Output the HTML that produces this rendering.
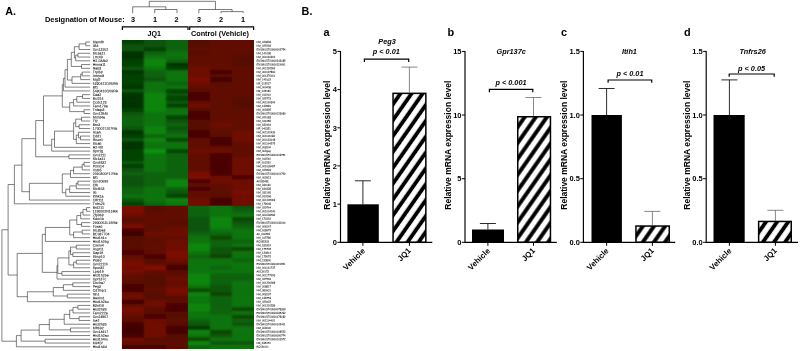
<!DOCTYPE html>
<html lang="en"><head><meta charset="utf-8"><title>Figure</title>
<style>html,body{margin:0;padding:0;background:#fff;}body{width:800px;height:351px;overflow:hidden;font-family:"Liberation Sans",Arial,sans-serif;}svg{display:block}</style>
</head><body>
<svg width="800" height="351" viewBox="0 0 800 351">
<rect width="800" height="351" fill="#fff"/>
<g shape-rendering="crispEdges">
<rect x="121.90" y="40.10" width="66.05" height="165.59" fill="#0b640a"/>
<rect x="187.95" y="40.10" width="66.05" height="165.59" fill="#610904"/>
<rect x="121.90" y="205.69" width="66.05" height="143.01" fill="#610904"/>
<rect x="187.95" y="205.69" width="66.05" height="143.01" fill="#0b640a"/>
</g>
<defs><filter id="hmblur" x="-5%" y="-5%" width="110%" height="110%"><feGaussianBlur stdDeviation="0.8 0.85"/></filter></defs>
<clipPath id="hq0"><rect x="121.90" y="40.10" width="66.05" height="165.59"/></clipPath>
<g clip-path="url(#hq0)"><g filter="url(#hmblur)">
<rect x="117.90" y="36.10" width="26.32" height="8.06" fill="#064206"/>
<rect x="143.92" y="36.10" width="22.32" height="8.06" fill="#085308"/>
<rect x="165.93" y="36.10" width="26.32" height="8.06" fill="#0b640a"/>
<rect x="117.90" y="43.86" width="26.32" height="4.06" fill="#085308"/>
<rect x="143.92" y="43.86" width="22.32" height="4.06" fill="#085308"/>
<rect x="165.93" y="43.86" width="26.32" height="4.06" fill="#0b640a"/>
<rect x="117.90" y="47.63" width="26.32" height="4.06" fill="#085308"/>
<rect x="143.92" y="47.63" width="22.32" height="4.06" fill="#064206"/>
<rect x="165.93" y="47.63" width="26.32" height="4.06" fill="#0b640a"/>
<rect x="117.90" y="51.39" width="26.32" height="4.06" fill="#043204"/>
<rect x="143.92" y="51.39" width="22.32" height="4.06" fill="#0b640a"/>
<rect x="165.93" y="51.39" width="26.32" height="4.06" fill="#0d740b"/>
<rect x="117.90" y="55.15" width="26.32" height="4.06" fill="#043204"/>
<rect x="143.92" y="55.15" width="22.32" height="4.06" fill="#0d740b"/>
<rect x="165.93" y="55.15" width="26.32" height="4.06" fill="#0d740b"/>
<rect x="117.90" y="58.92" width="26.32" height="4.06" fill="#064206"/>
<rect x="143.92" y="58.92" width="22.32" height="4.06" fill="#0f850d"/>
<rect x="165.93" y="58.92" width="26.32" height="4.06" fill="#0b640a"/>
<rect x="117.90" y="62.68" width="26.32" height="4.06" fill="#064206"/>
<rect x="143.92" y="62.68" width="22.32" height="4.06" fill="#0f850d"/>
<rect x="165.93" y="62.68" width="26.32" height="4.06" fill="#043204"/>
<rect x="117.90" y="66.44" width="26.32" height="4.06" fill="#085308"/>
<rect x="143.92" y="66.44" width="22.32" height="4.06" fill="#0d740b"/>
<rect x="165.93" y="66.44" width="26.32" height="4.06" fill="#064206"/>
<rect x="117.90" y="70.21" width="26.32" height="4.06" fill="#043204"/>
<rect x="143.92" y="70.21" width="22.32" height="4.06" fill="#0b640a"/>
<rect x="165.93" y="70.21" width="26.32" height="4.06" fill="#0d740b"/>
<rect x="117.90" y="73.97" width="26.32" height="4.06" fill="#064206"/>
<rect x="143.92" y="73.97" width="22.32" height="4.06" fill="#0b640a"/>
<rect x="165.93" y="73.97" width="26.32" height="4.06" fill="#0d740b"/>
<rect x="117.90" y="77.73" width="26.32" height="4.06" fill="#064206"/>
<rect x="143.92" y="77.73" width="22.32" height="4.06" fill="#085308"/>
<rect x="165.93" y="77.73" width="26.32" height="4.06" fill="#0d740b"/>
<rect x="117.90" y="81.50" width="26.32" height="4.06" fill="#064206"/>
<rect x="143.92" y="81.50" width="22.32" height="4.06" fill="#0d740b"/>
<rect x="165.93" y="81.50" width="26.32" height="4.06" fill="#0b640a"/>
<rect x="117.90" y="85.26" width="26.32" height="4.06" fill="#043204"/>
<rect x="143.92" y="85.26" width="22.32" height="4.06" fill="#0d740b"/>
<rect x="165.93" y="85.26" width="26.32" height="4.06" fill="#0d740b"/>
<rect x="117.90" y="89.02" width="26.32" height="4.06" fill="#085308"/>
<rect x="143.92" y="89.02" width="22.32" height="4.06" fill="#0d740b"/>
<rect x="165.93" y="89.02" width="26.32" height="4.06" fill="#064206"/>
<rect x="117.90" y="92.79" width="26.32" height="4.06" fill="#043204"/>
<rect x="143.92" y="92.79" width="22.32" height="4.06" fill="#0f850d"/>
<rect x="165.93" y="92.79" width="26.32" height="4.06" fill="#085308"/>
<rect x="117.90" y="96.55" width="26.32" height="4.06" fill="#043204"/>
<rect x="143.92" y="96.55" width="22.32" height="4.06" fill="#0f850d"/>
<rect x="165.93" y="96.55" width="26.32" height="4.06" fill="#064206"/>
<rect x="117.90" y="100.31" width="26.32" height="4.06" fill="#043204"/>
<rect x="143.92" y="100.31" width="22.32" height="4.06" fill="#0f850d"/>
<rect x="165.93" y="100.31" width="26.32" height="4.06" fill="#085308"/>
<rect x="117.90" y="104.08" width="26.32" height="4.06" fill="#043204"/>
<rect x="143.92" y="104.08" width="22.32" height="4.06" fill="#0f850d"/>
<rect x="165.93" y="104.08" width="26.32" height="4.06" fill="#064206"/>
<rect x="117.90" y="107.84" width="26.32" height="4.06" fill="#064206"/>
<rect x="143.92" y="107.84" width="22.32" height="4.06" fill="#0f850d"/>
<rect x="165.93" y="107.84" width="26.32" height="4.06" fill="#0d740b"/>
<rect x="117.90" y="111.60" width="26.32" height="4.06" fill="#085308"/>
<rect x="143.92" y="111.60" width="22.32" height="4.06" fill="#0d740b"/>
<rect x="165.93" y="111.60" width="26.32" height="4.06" fill="#0d740b"/>
<rect x="117.90" y="115.37" width="26.32" height="4.06" fill="#0b640a"/>
<rect x="143.92" y="115.37" width="22.32" height="4.06" fill="#0d740b"/>
<rect x="165.93" y="115.37" width="26.32" height="4.06" fill="#064206"/>
<rect x="117.90" y="119.13" width="26.32" height="4.06" fill="#0b640a"/>
<rect x="143.92" y="119.13" width="22.32" height="4.06" fill="#0d740b"/>
<rect x="165.93" y="119.13" width="26.32" height="4.06" fill="#085308"/>
<rect x="117.90" y="122.90" width="26.32" height="4.06" fill="#0b640a"/>
<rect x="143.92" y="122.90" width="22.32" height="4.06" fill="#0d740b"/>
<rect x="165.93" y="122.90" width="26.32" height="4.06" fill="#0b640a"/>
<rect x="117.90" y="126.66" width="26.32" height="4.06" fill="#085308"/>
<rect x="143.92" y="126.66" width="22.32" height="4.06" fill="#0f850d"/>
<rect x="165.93" y="126.66" width="26.32" height="4.06" fill="#085308"/>
<rect x="117.90" y="130.42" width="26.32" height="4.06" fill="#043204"/>
<rect x="143.92" y="130.42" width="22.32" height="4.06" fill="#0f850d"/>
<rect x="165.93" y="130.42" width="26.32" height="4.06" fill="#0b640a"/>
<rect x="117.90" y="134.19" width="26.32" height="4.06" fill="#064206"/>
<rect x="143.92" y="134.19" width="22.32" height="4.06" fill="#0b640a"/>
<rect x="165.93" y="134.19" width="26.32" height="4.06" fill="#0d740b"/>
<rect x="117.90" y="137.95" width="26.32" height="4.06" fill="#085308"/>
<rect x="143.92" y="137.95" width="22.32" height="4.06" fill="#0f850d"/>
<rect x="165.93" y="137.95" width="26.32" height="4.06" fill="#064206"/>
<rect x="117.90" y="141.71" width="26.32" height="4.06" fill="#043204"/>
<rect x="143.92" y="141.71" width="22.32" height="4.06" fill="#0d740b"/>
<rect x="165.93" y="141.71" width="26.32" height="4.06" fill="#0d740b"/>
<rect x="117.90" y="145.48" width="26.32" height="4.06" fill="#043204"/>
<rect x="143.92" y="145.48" width="22.32" height="4.06" fill="#0d740b"/>
<rect x="165.93" y="145.48" width="26.32" height="4.06" fill="#0d740b"/>
<rect x="117.90" y="149.24" width="26.32" height="4.06" fill="#064206"/>
<rect x="143.92" y="149.24" width="22.32" height="4.06" fill="#11950f"/>
<rect x="165.93" y="149.24" width="26.32" height="4.06" fill="#064206"/>
<rect x="117.90" y="153.00" width="26.32" height="4.06" fill="#064206"/>
<rect x="143.92" y="153.00" width="22.32" height="4.06" fill="#0d740b"/>
<rect x="165.93" y="153.00" width="26.32" height="4.06" fill="#0b640a"/>
<rect x="117.90" y="156.77" width="26.32" height="4.06" fill="#064206"/>
<rect x="143.92" y="156.77" width="22.32" height="4.06" fill="#0d740b"/>
<rect x="165.93" y="156.77" width="26.32" height="4.06" fill="#0b640a"/>
<rect x="117.90" y="160.53" width="26.32" height="4.06" fill="#085308"/>
<rect x="143.92" y="160.53" width="22.32" height="4.06" fill="#0d740b"/>
<rect x="165.93" y="160.53" width="26.32" height="4.06" fill="#0b640a"/>
<rect x="117.90" y="164.29" width="26.32" height="4.06" fill="#064206"/>
<rect x="143.92" y="164.29" width="22.32" height="4.06" fill="#0d740b"/>
<rect x="165.93" y="164.29" width="26.32" height="4.06" fill="#0b640a"/>
<rect x="117.90" y="168.06" width="26.32" height="4.06" fill="#085308"/>
<rect x="143.92" y="168.06" width="22.32" height="4.06" fill="#0d740b"/>
<rect x="165.93" y="168.06" width="26.32" height="4.06" fill="#0b640a"/>
<rect x="117.90" y="171.82" width="26.32" height="4.06" fill="#0b640a"/>
<rect x="143.92" y="171.82" width="22.32" height="4.06" fill="#0b640a"/>
<rect x="165.93" y="171.82" width="26.32" height="4.06" fill="#0b640a"/>
<rect x="117.90" y="175.58" width="26.32" height="4.06" fill="#085308"/>
<rect x="143.92" y="175.58" width="22.32" height="4.06" fill="#0b640a"/>
<rect x="165.93" y="175.58" width="26.32" height="4.06" fill="#0b640a"/>
<rect x="117.90" y="179.35" width="26.32" height="4.06" fill="#085308"/>
<rect x="143.92" y="179.35" width="22.32" height="4.06" fill="#0b640a"/>
<rect x="165.93" y="179.35" width="26.32" height="4.06" fill="#0f850d"/>
<rect x="117.90" y="183.11" width="26.32" height="4.06" fill="#085308"/>
<rect x="143.92" y="183.11" width="22.32" height="4.06" fill="#0b640a"/>
<rect x="165.93" y="183.11" width="26.32" height="4.06" fill="#0f850d"/>
<rect x="117.90" y="186.87" width="26.32" height="4.06" fill="#0b640a"/>
<rect x="143.92" y="186.87" width="22.32" height="4.06" fill="#0d740b"/>
<rect x="165.93" y="186.87" width="26.32" height="4.06" fill="#0b640a"/>
<rect x="117.90" y="190.64" width="26.32" height="4.06" fill="#0b640a"/>
<rect x="143.92" y="190.64" width="22.32" height="4.06" fill="#0d740b"/>
<rect x="165.93" y="190.64" width="26.32" height="4.06" fill="#085308"/>
<rect x="117.90" y="194.40" width="26.32" height="4.06" fill="#0d740b"/>
<rect x="143.92" y="194.40" width="22.32" height="4.06" fill="#0d740b"/>
<rect x="165.93" y="194.40" width="26.32" height="4.06" fill="#064206"/>
<rect x="117.90" y="198.16" width="26.32" height="4.06" fill="#085308"/>
<rect x="143.92" y="198.16" width="22.32" height="4.06" fill="#0d740b"/>
<rect x="165.93" y="198.16" width="26.32" height="4.06" fill="#0f850d"/>
<rect x="117.90" y="201.93" width="26.32" height="8.06" fill="#064206"/>
<rect x="143.92" y="201.93" width="22.32" height="8.06" fill="#0b640a"/>
<rect x="165.93" y="201.93" width="26.32" height="8.06" fill="#0d740b"/>
</g></g>
<clipPath id="hq1"><rect x="187.95" y="40.10" width="66.05" height="165.59"/></clipPath>
<g clip-path="url(#hq1)"><g filter="url(#hmblur)">
<rect x="183.95" y="36.10" width="26.32" height="8.06" fill="#560703"/>
<rect x="209.97" y="36.10" width="22.32" height="8.06" fill="#610904"/>
<rect x="231.98" y="36.10" width="26.32" height="8.06" fill="#610904"/>
<rect x="183.95" y="43.86" width="26.32" height="4.06" fill="#560703"/>
<rect x="209.97" y="43.86" width="22.32" height="4.06" fill="#610904"/>
<rect x="231.98" y="43.86" width="26.32" height="4.06" fill="#610904"/>
<rect x="183.95" y="47.63" width="26.32" height="4.06" fill="#610904"/>
<rect x="209.97" y="47.63" width="22.32" height="4.06" fill="#610904"/>
<rect x="231.98" y="47.63" width="26.32" height="4.06" fill="#610904"/>
<rect x="183.95" y="51.39" width="26.32" height="4.06" fill="#560703"/>
<rect x="209.97" y="51.39" width="22.32" height="4.06" fill="#610904"/>
<rect x="231.98" y="51.39" width="26.32" height="4.06" fill="#610904"/>
<rect x="183.95" y="55.15" width="26.32" height="4.06" fill="#610904"/>
<rect x="209.97" y="55.15" width="22.32" height="4.06" fill="#610904"/>
<rect x="231.98" y="55.15" width="26.32" height="4.06" fill="#560703"/>
<rect x="183.95" y="58.92" width="26.32" height="4.06" fill="#610904"/>
<rect x="209.97" y="58.92" width="22.32" height="4.06" fill="#610904"/>
<rect x="231.98" y="58.92" width="26.32" height="4.06" fill="#560703"/>
<rect x="183.95" y="62.68" width="26.32" height="4.06" fill="#610904"/>
<rect x="209.97" y="62.68" width="22.32" height="4.06" fill="#610904"/>
<rect x="231.98" y="62.68" width="26.32" height="4.06" fill="#560703"/>
<rect x="183.95" y="66.44" width="26.32" height="4.06" fill="#6e0a04"/>
<rect x="209.97" y="66.44" width="22.32" height="4.06" fill="#610904"/>
<rect x="231.98" y="66.44" width="26.32" height="4.06" fill="#610904"/>
<rect x="183.95" y="70.21" width="26.32" height="4.06" fill="#6e0a04"/>
<rect x="209.97" y="70.21" width="22.32" height="4.06" fill="#4a0502"/>
<rect x="231.98" y="70.21" width="26.32" height="4.06" fill="#610904"/>
<rect x="183.95" y="73.97" width="26.32" height="4.06" fill="#6e0a04"/>
<rect x="209.97" y="73.97" width="22.32" height="4.06" fill="#560703"/>
<rect x="231.98" y="73.97" width="26.32" height="4.06" fill="#610904"/>
<rect x="183.95" y="77.73" width="26.32" height="4.06" fill="#7b0c05"/>
<rect x="209.97" y="77.73" width="22.32" height="4.06" fill="#4a0502"/>
<rect x="231.98" y="77.73" width="26.32" height="4.06" fill="#610904"/>
<rect x="183.95" y="81.50" width="26.32" height="4.06" fill="#6e0a04"/>
<rect x="209.97" y="81.50" width="22.32" height="4.06" fill="#560703"/>
<rect x="231.98" y="81.50" width="26.32" height="4.06" fill="#610904"/>
<rect x="183.95" y="85.26" width="26.32" height="4.06" fill="#610904"/>
<rect x="209.97" y="85.26" width="22.32" height="4.06" fill="#610904"/>
<rect x="231.98" y="85.26" width="26.32" height="4.06" fill="#610904"/>
<rect x="183.95" y="89.02" width="26.32" height="4.06" fill="#560703"/>
<rect x="209.97" y="89.02" width="22.32" height="4.06" fill="#610904"/>
<rect x="231.98" y="89.02" width="26.32" height="4.06" fill="#610904"/>
<rect x="183.95" y="92.79" width="26.32" height="4.06" fill="#4a0502"/>
<rect x="209.97" y="92.79" width="22.32" height="4.06" fill="#610904"/>
<rect x="231.98" y="92.79" width="26.32" height="4.06" fill="#610904"/>
<rect x="183.95" y="96.55" width="26.32" height="4.06" fill="#4a0502"/>
<rect x="209.97" y="96.55" width="22.32" height="4.06" fill="#610904"/>
<rect x="231.98" y="96.55" width="26.32" height="4.06" fill="#560703"/>
<rect x="183.95" y="100.31" width="26.32" height="4.06" fill="#610904"/>
<rect x="209.97" y="100.31" width="22.32" height="4.06" fill="#610904"/>
<rect x="231.98" y="100.31" width="26.32" height="4.06" fill="#560703"/>
<rect x="183.95" y="104.08" width="26.32" height="4.06" fill="#6e0a04"/>
<rect x="209.97" y="104.08" width="22.32" height="4.06" fill="#610904"/>
<rect x="231.98" y="104.08" width="26.32" height="4.06" fill="#560703"/>
<rect x="183.95" y="107.84" width="26.32" height="4.06" fill="#560703"/>
<rect x="209.97" y="107.84" width="22.32" height="4.06" fill="#610904"/>
<rect x="231.98" y="107.84" width="26.32" height="4.06" fill="#610904"/>
<rect x="183.95" y="111.60" width="26.32" height="4.06" fill="#4a0502"/>
<rect x="209.97" y="111.60" width="22.32" height="4.06" fill="#610904"/>
<rect x="231.98" y="111.60" width="26.32" height="4.06" fill="#610904"/>
<rect x="183.95" y="115.37" width="26.32" height="4.06" fill="#4a0502"/>
<rect x="209.97" y="115.37" width="22.32" height="4.06" fill="#610904"/>
<rect x="231.98" y="115.37" width="26.32" height="4.06" fill="#610904"/>
<rect x="183.95" y="119.13" width="26.32" height="4.06" fill="#560703"/>
<rect x="209.97" y="119.13" width="22.32" height="4.06" fill="#610904"/>
<rect x="231.98" y="119.13" width="26.32" height="4.06" fill="#610904"/>
<rect x="183.95" y="122.90" width="26.32" height="4.06" fill="#560703"/>
<rect x="209.97" y="122.90" width="22.32" height="4.06" fill="#6e0a04"/>
<rect x="231.98" y="122.90" width="26.32" height="4.06" fill="#610904"/>
<rect x="183.95" y="126.66" width="26.32" height="4.06" fill="#560703"/>
<rect x="209.97" y="126.66" width="22.32" height="4.06" fill="#610904"/>
<rect x="231.98" y="126.66" width="26.32" height="4.06" fill="#610904"/>
<rect x="183.95" y="130.42" width="26.32" height="4.06" fill="#4a0502"/>
<rect x="209.97" y="130.42" width="22.32" height="4.06" fill="#610904"/>
<rect x="231.98" y="130.42" width="26.32" height="4.06" fill="#6e0a04"/>
<rect x="183.95" y="134.19" width="26.32" height="4.06" fill="#4a0502"/>
<rect x="209.97" y="134.19" width="22.32" height="4.06" fill="#560703"/>
<rect x="231.98" y="134.19" width="26.32" height="4.06" fill="#6e0a04"/>
<rect x="183.95" y="137.95" width="26.32" height="4.06" fill="#610904"/>
<rect x="209.97" y="137.95" width="22.32" height="4.06" fill="#4a0502"/>
<rect x="231.98" y="137.95" width="26.32" height="4.06" fill="#6e0a04"/>
<rect x="183.95" y="141.71" width="26.32" height="4.06" fill="#610904"/>
<rect x="209.97" y="141.71" width="22.32" height="4.06" fill="#4a0502"/>
<rect x="231.98" y="141.71" width="26.32" height="4.06" fill="#610904"/>
<rect x="183.95" y="145.48" width="26.32" height="4.06" fill="#610904"/>
<rect x="209.97" y="145.48" width="22.32" height="4.06" fill="#610904"/>
<rect x="231.98" y="145.48" width="26.32" height="4.06" fill="#610904"/>
<rect x="183.95" y="149.24" width="26.32" height="4.06" fill="#6e0a04"/>
<rect x="209.97" y="149.24" width="22.32" height="4.06" fill="#6e0a04"/>
<rect x="231.98" y="149.24" width="26.32" height="4.06" fill="#610904"/>
<rect x="183.95" y="153.00" width="26.32" height="4.06" fill="#610904"/>
<rect x="209.97" y="153.00" width="22.32" height="4.06" fill="#4a0502"/>
<rect x="231.98" y="153.00" width="26.32" height="4.06" fill="#610904"/>
<rect x="183.95" y="156.77" width="26.32" height="4.06" fill="#610904"/>
<rect x="209.97" y="156.77" width="22.32" height="4.06" fill="#4a0502"/>
<rect x="231.98" y="156.77" width="26.32" height="4.06" fill="#6e0a04"/>
<rect x="183.95" y="160.53" width="26.32" height="4.06" fill="#610904"/>
<rect x="209.97" y="160.53" width="22.32" height="4.06" fill="#4a0502"/>
<rect x="231.98" y="160.53" width="26.32" height="4.06" fill="#6e0a04"/>
<rect x="183.95" y="164.29" width="26.32" height="4.06" fill="#610904"/>
<rect x="209.97" y="164.29" width="22.32" height="4.06" fill="#4a0502"/>
<rect x="231.98" y="164.29" width="26.32" height="4.06" fill="#6e0a04"/>
<rect x="183.95" y="168.06" width="26.32" height="4.06" fill="#610904"/>
<rect x="209.97" y="168.06" width="22.32" height="4.06" fill="#4a0502"/>
<rect x="231.98" y="168.06" width="26.32" height="4.06" fill="#6e0a04"/>
<rect x="183.95" y="171.82" width="26.32" height="4.06" fill="#7b0c05"/>
<rect x="209.97" y="171.82" width="22.32" height="4.06" fill="#4a0502"/>
<rect x="231.98" y="171.82" width="26.32" height="4.06" fill="#6e0a04"/>
<rect x="183.95" y="175.58" width="26.32" height="4.06" fill="#7b0c05"/>
<rect x="209.97" y="175.58" width="22.32" height="4.06" fill="#6e0a04"/>
<rect x="231.98" y="175.58" width="26.32" height="4.06" fill="#4a0502"/>
<rect x="183.95" y="179.35" width="26.32" height="4.06" fill="#4a0502"/>
<rect x="209.97" y="179.35" width="22.32" height="4.06" fill="#6e0a04"/>
<rect x="231.98" y="179.35" width="26.32" height="4.06" fill="#6e0a04"/>
<rect x="183.95" y="183.11" width="26.32" height="4.06" fill="#610904"/>
<rect x="209.97" y="183.11" width="22.32" height="4.06" fill="#610904"/>
<rect x="231.98" y="183.11" width="26.32" height="4.06" fill="#6e0a04"/>
<rect x="183.95" y="186.87" width="26.32" height="4.06" fill="#4a0502"/>
<rect x="209.97" y="186.87" width="22.32" height="4.06" fill="#610904"/>
<rect x="231.98" y="186.87" width="26.32" height="4.06" fill="#6e0a04"/>
<rect x="183.95" y="190.64" width="26.32" height="4.06" fill="#610904"/>
<rect x="209.97" y="190.64" width="22.32" height="4.06" fill="#610904"/>
<rect x="231.98" y="190.64" width="26.32" height="4.06" fill="#7b0c05"/>
<rect x="183.95" y="194.40" width="26.32" height="4.06" fill="#610904"/>
<rect x="209.97" y="194.40" width="22.32" height="4.06" fill="#560703"/>
<rect x="231.98" y="194.40" width="26.32" height="4.06" fill="#6e0a04"/>
<rect x="183.95" y="198.16" width="26.32" height="4.06" fill="#6e0a04"/>
<rect x="209.97" y="198.16" width="22.32" height="4.06" fill="#4a0502"/>
<rect x="231.98" y="198.16" width="26.32" height="4.06" fill="#6e0a04"/>
<rect x="183.95" y="201.93" width="26.32" height="8.06" fill="#6e0a04"/>
<rect x="209.97" y="201.93" width="22.32" height="8.06" fill="#4a0502"/>
<rect x="231.98" y="201.93" width="26.32" height="8.06" fill="#6e0a04"/>
</g></g>
<clipPath id="hq2"><rect x="121.90" y="205.69" width="66.05" height="143.01"/></clipPath>
<g clip-path="url(#hq2)"><g filter="url(#hmblur)">
<rect x="117.90" y="201.69" width="26.32" height="8.06" fill="#7b0c05"/>
<rect x="143.92" y="201.69" width="22.32" height="8.06" fill="#560703"/>
<rect x="165.93" y="201.69" width="26.32" height="8.06" fill="#610904"/>
<rect x="117.90" y="209.45" width="26.32" height="4.06" fill="#7b0c05"/>
<rect x="143.92" y="209.45" width="22.32" height="4.06" fill="#560703"/>
<rect x="165.93" y="209.45" width="26.32" height="4.06" fill="#610904"/>
<rect x="117.90" y="213.22" width="26.32" height="4.06" fill="#6e0a04"/>
<rect x="143.92" y="213.22" width="22.32" height="4.06" fill="#610904"/>
<rect x="165.93" y="213.22" width="26.32" height="4.06" fill="#610904"/>
<rect x="117.90" y="216.98" width="26.32" height="4.06" fill="#560703"/>
<rect x="143.92" y="216.98" width="22.32" height="4.06" fill="#610904"/>
<rect x="165.93" y="216.98" width="26.32" height="4.06" fill="#610904"/>
<rect x="117.90" y="220.74" width="26.32" height="4.06" fill="#610904"/>
<rect x="143.92" y="220.74" width="22.32" height="4.06" fill="#610904"/>
<rect x="165.93" y="220.74" width="26.32" height="4.06" fill="#560703"/>
<rect x="117.90" y="224.51" width="26.32" height="4.06" fill="#7b0c05"/>
<rect x="143.92" y="224.51" width="22.32" height="4.06" fill="#610904"/>
<rect x="165.93" y="224.51" width="26.32" height="4.06" fill="#610904"/>
<rect x="117.90" y="228.27" width="26.32" height="4.06" fill="#4a0502"/>
<rect x="143.92" y="228.27" width="22.32" height="4.06" fill="#610904"/>
<rect x="165.93" y="228.27" width="26.32" height="4.06" fill="#6e0a04"/>
<rect x="117.90" y="232.03" width="26.32" height="4.06" fill="#3f0401"/>
<rect x="143.92" y="232.03" width="22.32" height="4.06" fill="#6e0a04"/>
<rect x="165.93" y="232.03" width="26.32" height="4.06" fill="#6e0a04"/>
<rect x="117.90" y="235.80" width="26.32" height="4.06" fill="#560703"/>
<rect x="143.92" y="235.80" width="22.32" height="4.06" fill="#610904"/>
<rect x="165.93" y="235.80" width="26.32" height="4.06" fill="#610904"/>
<rect x="117.90" y="239.56" width="26.32" height="4.06" fill="#560703"/>
<rect x="143.92" y="239.56" width="22.32" height="4.06" fill="#610904"/>
<rect x="165.93" y="239.56" width="26.32" height="4.06" fill="#6e0a04"/>
<rect x="117.90" y="243.32" width="26.32" height="4.06" fill="#560703"/>
<rect x="143.92" y="243.32" width="22.32" height="4.06" fill="#610904"/>
<rect x="165.93" y="243.32" width="26.32" height="4.06" fill="#6e0a04"/>
<rect x="117.90" y="247.09" width="26.32" height="4.06" fill="#560703"/>
<rect x="143.92" y="247.09" width="22.32" height="4.06" fill="#610904"/>
<rect x="165.93" y="247.09" width="26.32" height="4.06" fill="#6e0a04"/>
<rect x="117.90" y="250.85" width="26.32" height="4.06" fill="#4a0502"/>
<rect x="143.92" y="250.85" width="22.32" height="4.06" fill="#610904"/>
<rect x="165.93" y="250.85" width="26.32" height="4.06" fill="#7b0c05"/>
<rect x="117.90" y="254.61" width="26.32" height="4.06" fill="#610904"/>
<rect x="143.92" y="254.61" width="22.32" height="4.06" fill="#4a0502"/>
<rect x="165.93" y="254.61" width="26.32" height="4.06" fill="#7b0c05"/>
<rect x="117.90" y="258.38" width="26.32" height="4.06" fill="#6e0a04"/>
<rect x="143.92" y="258.38" width="22.32" height="4.06" fill="#560703"/>
<rect x="165.93" y="258.38" width="26.32" height="4.06" fill="#6e0a04"/>
<rect x="117.90" y="262.14" width="26.32" height="4.06" fill="#7b0c05"/>
<rect x="143.92" y="262.14" width="22.32" height="4.06" fill="#610904"/>
<rect x="165.93" y="262.14" width="26.32" height="4.06" fill="#560703"/>
<rect x="117.90" y="265.90" width="26.32" height="4.06" fill="#6e0a04"/>
<rect x="143.92" y="265.90" width="22.32" height="4.06" fill="#870e06"/>
<rect x="165.93" y="265.90" width="26.32" height="4.06" fill="#4a0502"/>
<rect x="117.90" y="269.67" width="26.32" height="4.06" fill="#7b0c05"/>
<rect x="143.92" y="269.67" width="22.32" height="4.06" fill="#610904"/>
<rect x="165.93" y="269.67" width="26.32" height="4.06" fill="#560703"/>
<rect x="117.90" y="273.43" width="26.32" height="4.06" fill="#610904"/>
<rect x="143.92" y="273.43" width="22.32" height="4.06" fill="#560703"/>
<rect x="165.93" y="273.43" width="26.32" height="4.06" fill="#610904"/>
<rect x="117.90" y="277.20" width="26.32" height="4.06" fill="#610904"/>
<rect x="143.92" y="277.20" width="22.32" height="4.06" fill="#560703"/>
<rect x="165.93" y="277.20" width="26.32" height="4.06" fill="#6e0a04"/>
<rect x="117.90" y="280.96" width="26.32" height="4.06" fill="#560703"/>
<rect x="143.92" y="280.96" width="22.32" height="4.06" fill="#560703"/>
<rect x="165.93" y="280.96" width="26.32" height="4.06" fill="#610904"/>
<rect x="117.90" y="284.72" width="26.32" height="4.06" fill="#4a0502"/>
<rect x="143.92" y="284.72" width="22.32" height="4.06" fill="#560703"/>
<rect x="165.93" y="284.72" width="26.32" height="4.06" fill="#6e0a04"/>
<rect x="117.90" y="288.49" width="26.32" height="4.06" fill="#4a0502"/>
<rect x="143.92" y="288.49" width="22.32" height="4.06" fill="#610904"/>
<rect x="165.93" y="288.49" width="26.32" height="4.06" fill="#7b0c05"/>
<rect x="117.90" y="292.25" width="26.32" height="4.06" fill="#6e0a04"/>
<rect x="143.92" y="292.25" width="22.32" height="4.06" fill="#560703"/>
<rect x="165.93" y="292.25" width="26.32" height="4.06" fill="#6e0a04"/>
<rect x="117.90" y="296.01" width="26.32" height="4.06" fill="#6e0a04"/>
<rect x="143.92" y="296.01" width="22.32" height="4.06" fill="#560703"/>
<rect x="165.93" y="296.01" width="26.32" height="4.06" fill="#560703"/>
<rect x="117.90" y="299.78" width="26.32" height="4.06" fill="#3f0401"/>
<rect x="143.92" y="299.78" width="22.32" height="4.06" fill="#6e0a04"/>
<rect x="165.93" y="299.78" width="26.32" height="4.06" fill="#610904"/>
<rect x="117.90" y="303.54" width="26.32" height="4.06" fill="#610904"/>
<rect x="143.92" y="303.54" width="22.32" height="4.06" fill="#6e0a04"/>
<rect x="165.93" y="303.54" width="26.32" height="4.06" fill="#4a0502"/>
<rect x="117.90" y="307.30" width="26.32" height="4.06" fill="#7b0c05"/>
<rect x="143.92" y="307.30" width="22.32" height="4.06" fill="#560703"/>
<rect x="165.93" y="307.30" width="26.32" height="4.06" fill="#4a0502"/>
<rect x="117.90" y="311.07" width="26.32" height="4.06" fill="#6e0a04"/>
<rect x="143.92" y="311.07" width="22.32" height="4.06" fill="#560703"/>
<rect x="165.93" y="311.07" width="26.32" height="4.06" fill="#560703"/>
<rect x="117.90" y="314.83" width="26.32" height="4.06" fill="#610904"/>
<rect x="143.92" y="314.83" width="22.32" height="4.06" fill="#4a0502"/>
<rect x="165.93" y="314.83" width="26.32" height="4.06" fill="#560703"/>
<rect x="117.90" y="318.59" width="26.32" height="4.06" fill="#560703"/>
<rect x="143.92" y="318.59" width="22.32" height="4.06" fill="#6e0a04"/>
<rect x="165.93" y="318.59" width="26.32" height="4.06" fill="#610904"/>
<rect x="117.90" y="322.36" width="26.32" height="4.06" fill="#4a0502"/>
<rect x="143.92" y="322.36" width="22.32" height="4.06" fill="#6e0a04"/>
<rect x="165.93" y="322.36" width="26.32" height="4.06" fill="#560703"/>
<rect x="117.90" y="326.12" width="26.32" height="4.06" fill="#3f0401"/>
<rect x="143.92" y="326.12" width="22.32" height="4.06" fill="#6e0a04"/>
<rect x="165.93" y="326.12" width="26.32" height="4.06" fill="#4a0502"/>
<rect x="117.90" y="329.88" width="26.32" height="4.06" fill="#3f0401"/>
<rect x="143.92" y="329.88" width="22.32" height="4.06" fill="#6e0a04"/>
<rect x="165.93" y="329.88" width="26.32" height="4.06" fill="#4a0502"/>
<rect x="117.90" y="333.65" width="26.32" height="4.06" fill="#4a0502"/>
<rect x="143.92" y="333.65" width="22.32" height="4.06" fill="#6e0a04"/>
<rect x="165.93" y="333.65" width="26.32" height="4.06" fill="#560703"/>
<rect x="117.90" y="337.41" width="26.32" height="4.06" fill="#6e0a04"/>
<rect x="143.92" y="337.41" width="22.32" height="4.06" fill="#560703"/>
<rect x="165.93" y="337.41" width="26.32" height="4.06" fill="#560703"/>
<rect x="117.90" y="341.17" width="26.32" height="4.06" fill="#610904"/>
<rect x="143.92" y="341.17" width="22.32" height="4.06" fill="#610904"/>
<rect x="165.93" y="341.17" width="26.32" height="4.06" fill="#610904"/>
<rect x="117.90" y="344.94" width="26.32" height="8.06" fill="#4a0502"/>
<rect x="143.92" y="344.94" width="22.32" height="8.06" fill="#4a0502"/>
<rect x="165.93" y="344.94" width="26.32" height="8.06" fill="#560703"/>
</g></g>
<clipPath id="hq3"><rect x="187.95" y="205.69" width="66.05" height="143.01"/></clipPath>
<g clip-path="url(#hq3)"><g filter="url(#hmblur)">
<rect x="183.95" y="201.69" width="26.32" height="8.06" fill="#0b640a"/>
<rect x="209.97" y="201.69" width="22.32" height="8.06" fill="#0d750b"/>
<rect x="231.98" y="201.69" width="26.32" height="8.06" fill="#095408"/>
<rect x="183.95" y="209.45" width="26.32" height="4.06" fill="#0b640a"/>
<rect x="209.97" y="209.45" width="22.32" height="4.06" fill="#0d750b"/>
<rect x="231.98" y="209.45" width="26.32" height="4.06" fill="#0b640a"/>
<rect x="183.95" y="213.22" width="26.32" height="4.06" fill="#0b640a"/>
<rect x="209.97" y="213.22" width="22.32" height="4.06" fill="#0d750b"/>
<rect x="231.98" y="213.22" width="26.32" height="4.06" fill="#0d750b"/>
<rect x="183.95" y="216.98" width="26.32" height="4.06" fill="#095408"/>
<rect x="209.97" y="216.98" width="22.32" height="4.06" fill="#0f860d"/>
<rect x="231.98" y="216.98" width="26.32" height="4.06" fill="#074506"/>
<rect x="183.95" y="220.74" width="26.32" height="4.06" fill="#095408"/>
<rect x="209.97" y="220.74" width="22.32" height="4.06" fill="#0f860d"/>
<rect x="231.98" y="220.74" width="26.32" height="4.06" fill="#095408"/>
<rect x="183.95" y="224.51" width="26.32" height="4.06" fill="#095408"/>
<rect x="209.97" y="224.51" width="22.32" height="4.06" fill="#0f860d"/>
<rect x="231.98" y="224.51" width="26.32" height="4.06" fill="#0b640a"/>
<rect x="183.95" y="228.27" width="26.32" height="4.06" fill="#095408"/>
<rect x="209.97" y="228.27" width="22.32" height="4.06" fill="#0d750b"/>
<rect x="231.98" y="228.27" width="26.32" height="4.06" fill="#0d750b"/>
<rect x="183.95" y="232.03" width="26.32" height="4.06" fill="#0b640a"/>
<rect x="209.97" y="232.03" width="22.32" height="4.06" fill="#0b640a"/>
<rect x="231.98" y="232.03" width="26.32" height="4.06" fill="#0d750b"/>
<rect x="183.95" y="235.80" width="26.32" height="4.06" fill="#0d750b"/>
<rect x="209.97" y="235.80" width="22.32" height="4.06" fill="#074506"/>
<rect x="231.98" y="235.80" width="26.32" height="4.06" fill="#0d750b"/>
<rect x="183.95" y="239.56" width="26.32" height="4.06" fill="#0d750b"/>
<rect x="209.97" y="239.56" width="22.32" height="4.06" fill="#0b640a"/>
<rect x="231.98" y="239.56" width="26.32" height="4.06" fill="#0b640a"/>
<rect x="183.95" y="243.32" width="26.32" height="4.06" fill="#0f860d"/>
<rect x="209.97" y="243.32" width="22.32" height="4.06" fill="#0b640a"/>
<rect x="231.98" y="243.32" width="26.32" height="4.06" fill="#0d750b"/>
<rect x="183.95" y="247.09" width="26.32" height="4.06" fill="#0f860d"/>
<rect x="209.97" y="247.09" width="22.32" height="4.06" fill="#095408"/>
<rect x="231.98" y="247.09" width="26.32" height="4.06" fill="#074506"/>
<rect x="183.95" y="250.85" width="26.32" height="4.06" fill="#0d750b"/>
<rect x="209.97" y="250.85" width="22.32" height="4.06" fill="#095408"/>
<rect x="231.98" y="250.85" width="26.32" height="4.06" fill="#0d750b"/>
<rect x="183.95" y="254.61" width="26.32" height="4.06" fill="#0b640a"/>
<rect x="209.97" y="254.61" width="22.32" height="4.06" fill="#074506"/>
<rect x="231.98" y="254.61" width="26.32" height="4.06" fill="#0d750b"/>
<rect x="183.95" y="258.38" width="26.32" height="4.06" fill="#0d750b"/>
<rect x="209.97" y="258.38" width="22.32" height="4.06" fill="#0d750b"/>
<rect x="231.98" y="258.38" width="26.32" height="4.06" fill="#0b640a"/>
<rect x="183.95" y="262.14" width="26.32" height="4.06" fill="#0d750b"/>
<rect x="209.97" y="262.14" width="22.32" height="4.06" fill="#0d750b"/>
<rect x="231.98" y="262.14" width="26.32" height="4.06" fill="#0d750b"/>
<rect x="183.95" y="265.90" width="26.32" height="4.06" fill="#0d750b"/>
<rect x="209.97" y="265.90" width="22.32" height="4.06" fill="#0b640a"/>
<rect x="231.98" y="265.90" width="26.32" height="4.06" fill="#0d750b"/>
<rect x="183.95" y="269.67" width="26.32" height="4.06" fill="#0d750b"/>
<rect x="209.97" y="269.67" width="22.32" height="4.06" fill="#0d750b"/>
<rect x="231.98" y="269.67" width="26.32" height="4.06" fill="#0d750b"/>
<rect x="183.95" y="273.43" width="26.32" height="4.06" fill="#0f860d"/>
<rect x="209.97" y="273.43" width="22.32" height="4.06" fill="#0b640a"/>
<rect x="231.98" y="273.43" width="26.32" height="4.06" fill="#0b640a"/>
<rect x="183.95" y="277.20" width="26.32" height="4.06" fill="#0f860d"/>
<rect x="209.97" y="277.20" width="22.32" height="4.06" fill="#0b640a"/>
<rect x="231.98" y="277.20" width="26.32" height="4.06" fill="#0b640a"/>
<rect x="183.95" y="280.96" width="26.32" height="4.06" fill="#0f860d"/>
<rect x="209.97" y="280.96" width="22.32" height="4.06" fill="#0b640a"/>
<rect x="231.98" y="280.96" width="26.32" height="4.06" fill="#0d750b"/>
<rect x="183.95" y="284.72" width="26.32" height="4.06" fill="#0d750b"/>
<rect x="209.97" y="284.72" width="22.32" height="4.06" fill="#095408"/>
<rect x="231.98" y="284.72" width="26.32" height="4.06" fill="#0d750b"/>
<rect x="183.95" y="288.49" width="26.32" height="4.06" fill="#074506"/>
<rect x="209.97" y="288.49" width="22.32" height="4.06" fill="#095408"/>
<rect x="231.98" y="288.49" width="26.32" height="4.06" fill="#0d750b"/>
<rect x="183.95" y="292.25" width="26.32" height="4.06" fill="#0f860d"/>
<rect x="209.97" y="292.25" width="22.32" height="4.06" fill="#074506"/>
<rect x="231.98" y="292.25" width="26.32" height="4.06" fill="#0d750b"/>
<rect x="183.95" y="296.01" width="26.32" height="4.06" fill="#0d750b"/>
<rect x="209.97" y="296.01" width="22.32" height="4.06" fill="#0b640a"/>
<rect x="231.98" y="296.01" width="26.32" height="4.06" fill="#0d750b"/>
<rect x="183.95" y="299.78" width="26.32" height="4.06" fill="#0d750b"/>
<rect x="209.97" y="299.78" width="22.32" height="4.06" fill="#0b640a"/>
<rect x="231.98" y="299.78" width="26.32" height="4.06" fill="#0d750b"/>
<rect x="183.95" y="303.54" width="26.32" height="4.06" fill="#0f860d"/>
<rect x="209.97" y="303.54" width="22.32" height="4.06" fill="#0b640a"/>
<rect x="231.98" y="303.54" width="26.32" height="4.06" fill="#0d750b"/>
<rect x="183.95" y="307.30" width="26.32" height="4.06" fill="#0f860d"/>
<rect x="209.97" y="307.30" width="22.32" height="4.06" fill="#0b640a"/>
<rect x="231.98" y="307.30" width="26.32" height="4.06" fill="#074506"/>
<rect x="183.95" y="311.07" width="26.32" height="4.06" fill="#0d750b"/>
<rect x="209.97" y="311.07" width="22.32" height="4.06" fill="#0b640a"/>
<rect x="231.98" y="311.07" width="26.32" height="4.06" fill="#0d750b"/>
<rect x="183.95" y="314.83" width="26.32" height="4.06" fill="#0d750b"/>
<rect x="209.97" y="314.83" width="22.32" height="4.06" fill="#0d750b"/>
<rect x="231.98" y="314.83" width="26.32" height="4.06" fill="#074506"/>
<rect x="183.95" y="318.59" width="26.32" height="4.06" fill="#0b640a"/>
<rect x="209.97" y="318.59" width="22.32" height="4.06" fill="#0d750b"/>
<rect x="231.98" y="318.59" width="26.32" height="4.06" fill="#0b640a"/>
<rect x="183.95" y="322.36" width="26.32" height="4.06" fill="#095408"/>
<rect x="209.97" y="322.36" width="22.32" height="4.06" fill="#0d750b"/>
<rect x="231.98" y="322.36" width="26.32" height="4.06" fill="#095408"/>
<rect x="183.95" y="326.12" width="26.32" height="4.06" fill="#053604"/>
<rect x="209.97" y="326.12" width="22.32" height="4.06" fill="#0d750b"/>
<rect x="231.98" y="326.12" width="26.32" height="4.06" fill="#0d750b"/>
<rect x="183.95" y="329.88" width="26.32" height="4.06" fill="#0f860d"/>
<rect x="209.97" y="329.88" width="22.32" height="4.06" fill="#074506"/>
<rect x="231.98" y="329.88" width="26.32" height="4.06" fill="#0d750b"/>
<rect x="183.95" y="333.65" width="26.32" height="4.06" fill="#0d750b"/>
<rect x="209.97" y="333.65" width="22.32" height="4.06" fill="#095408"/>
<rect x="231.98" y="333.65" width="26.32" height="4.06" fill="#0d750b"/>
<rect x="183.95" y="337.41" width="26.32" height="4.06" fill="#074506"/>
<rect x="209.97" y="337.41" width="22.32" height="4.06" fill="#0d750b"/>
<rect x="231.98" y="337.41" width="26.32" height="4.06" fill="#0d750b"/>
<rect x="183.95" y="341.17" width="26.32" height="4.06" fill="#0f860d"/>
<rect x="209.97" y="341.17" width="22.32" height="4.06" fill="#095408"/>
<rect x="231.98" y="341.17" width="26.32" height="4.06" fill="#095408"/>
<rect x="183.95" y="344.94" width="26.32" height="8.06" fill="#0b640a"/>
<rect x="209.97" y="344.94" width="22.32" height="8.06" fill="#0d750b"/>
<rect x="231.98" y="344.94" width="26.32" height="8.06" fill="#0d750b"/>
</g></g>
<g font-family="'Liberation Sans', Arial, sans-serif" font-size="3.55" fill="#000" stroke="#000" stroke-width="0.05" text-rendering="geometricPrecision">
<text transform="translate(92.7 43.23) rotate(0.03)">Slamf8</text>
<text transform="translate(92.7 47.00) rotate(0.03)">Il34</text>
<text transform="translate(92.7 50.76) rotate(0.03)">Gm13152</text>
<text transform="translate(92.7 54.52) rotate(0.03)">Slc5a11</text>
<text transform="translate(92.7 58.29) rotate(0.03)">Lrrc49</text>
<text transform="translate(92.7 62.05) rotate(0.03)">H2-DMb2</text>
<text transform="translate(92.7 65.81) rotate(0.03)">Hmna11</text>
<text transform="translate(92.7 69.58) rotate(0.03)">Rab3</text>
<text transform="translate(92.7 73.34) rotate(0.03)">Trpl63</text>
<text transform="translate(92.7 77.10) rotate(0.03)">Artrpd4</text>
<text transform="translate(92.7 80.87) rotate(0.03)">Mgl2</text>
<text transform="translate(92.7 84.63) rotate(0.03)">5330411O05Rik</text>
<text transform="translate(92.7 88.39) rotate(0.03)">Bf1</text>
<text transform="translate(92.7 92.16) rotate(0.03)">5430416O09Rik</text>
<text transform="translate(92.7 95.92) rotate(0.03)">Cea2</text>
<text transform="translate(92.7 99.68) rotate(0.03)">Bcl214</text>
<text transform="translate(92.7 103.45) rotate(0.03)">Ccdc125</text>
<text transform="translate(92.7 107.21) rotate(0.03)">Fam179a</text>
<text transform="translate(92.7 110.97) rotate(0.03)">Tnfaip3</text>
<text transform="translate(92.7 114.74) rotate(0.03)">Gm12846</text>
<text transform="translate(92.7 118.50) rotate(0.03)">Sh2d4a</text>
<text transform="translate(92.7 122.26) rotate(0.03)">Tf2</text>
<text transform="translate(92.7 126.03) rotate(0.03)">Brn3</text>
<text transform="translate(92.7 129.79) rotate(0.03)">1700027J07Rik</text>
<text transform="translate(92.7 133.55) rotate(0.03)">Asah</text>
<text transform="translate(92.7 137.32) rotate(0.03)">Cd31</text>
<text transform="translate(92.7 141.08) rotate(0.03)">Risor1</text>
<text transform="translate(92.7 144.84) rotate(0.03)">Slca6</text>
<text transform="translate(92.7 148.61) rotate(0.03)">H2-M2</text>
<text transform="translate(92.7 152.37) rotate(0.03)">Sprr2g</text>
<text transform="translate(92.7 156.13) rotate(0.03)">Gm2211</text>
<text transform="translate(92.7 159.90) rotate(0.03)">Slc1a11</text>
<text transform="translate(92.7 163.66) rotate(0.03)">Gm8432</text>
<text transform="translate(92.7 167.42) rotate(0.03)">P2rx14</text>
<text transform="translate(92.7 171.19) rotate(0.03)">Vstb5</text>
<text transform="translate(92.7 174.95) rotate(0.03)">2010300F17Rik</text>
<text transform="translate(92.7 178.71) rotate(0.03)">Bf1</text>
<text transform="translate(92.7 182.48) rotate(0.03)">Gm20699</text>
<text transform="translate(92.7 186.24) rotate(0.03)">Cfb</text>
<text transform="translate(92.7 190.00) rotate(0.03)">Slcf163</text>
<text transform="translate(92.7 193.77) rotate(0.03)">Il6</text>
<text transform="translate(92.7 197.53) rotate(0.03)">Klhk1a</text>
<text transform="translate(92.7 201.30) rotate(0.03)">Olfr111</text>
<text transform="translate(92.7 205.06) rotate(0.03)">Tnfrs26</text>
<text transform="translate(92.7 208.82) rotate(0.03)">Brd211</text>
<text transform="translate(92.7 212.59) rotate(0.03)">1190002N15Rik</text>
<text transform="translate(92.7 216.35) rotate(0.03)">Zfp963</text>
<text transform="translate(92.7 220.11) rotate(0.03)">Kdm1b</text>
<text transform="translate(92.7 223.88) rotate(0.03)">2900052L18Rik</text>
<text transform="translate(92.7 227.64) rotate(0.03)">Foxa6</text>
<text transform="translate(92.7 231.40) rotate(0.03)">Slc35e3</text>
<text transform="translate(92.7 235.17) rotate(0.03)">BC037704</text>
<text transform="translate(92.7 238.93) rotate(0.03)">Hist1h1c</text>
<text transform="translate(92.7 242.69) rotate(0.03)">Hist1h2bg</text>
<text transform="translate(92.7 246.46) rotate(0.03)">Cxxm4</text>
<text transform="translate(92.7 250.22) rotate(0.03)">Asgr11</text>
<text transform="translate(92.7 253.98) rotate(0.03)">Dap18</text>
<text transform="translate(92.7 257.75) rotate(0.03)">Sbsp10</text>
<text transform="translate(92.7 261.51) rotate(0.03)">Pid62</text>
<text transform="translate(92.7 265.27) rotate(0.03)">Gm22116</text>
<text transform="translate(92.7 269.04) rotate(0.03)">Spor32</text>
<text transform="translate(92.7 272.80) rotate(0.03)">Lprp19</text>
<text transform="translate(92.7 276.56) rotate(0.03)">Hist1h2be</text>
<text transform="translate(92.7 280.33) rotate(0.03)">Gpr137c</text>
<text transform="translate(92.7 284.09) rotate(0.03)">Chcha7</text>
<text transform="translate(92.7 287.85) rotate(0.03)">Peg3</text>
<text transform="translate(92.7 291.62) rotate(0.03)">Cd1hqr1</text>
<text transform="translate(92.7 295.38) rotate(0.03)">Itih1</text>
<text transform="translate(92.7 299.14) rotate(0.03)">Hexim1</text>
<text transform="translate(92.7 302.91) rotate(0.03)">Hist1h2bu</text>
<text transform="translate(92.7 306.67) rotate(0.03)">B3nt18</text>
<text transform="translate(92.7 310.43) rotate(0.03)">Hist2h3b</text>
<text transform="translate(92.7 314.20) rotate(0.03)">Fam222a</text>
<text transform="translate(92.7 317.96) rotate(0.03)">Gm24967</text>
<text transform="translate(92.7 321.72) rotate(0.03)">Ice2</text>
<text transform="translate(92.7 325.49) rotate(0.03)">Hist2h3b</text>
<text transform="translate(92.7 329.25) rotate(0.03)">Mfr692</text>
<text transform="translate(92.7 333.01) rotate(0.03)">Gm14417</text>
<text transform="translate(92.7 336.78) rotate(0.03)">Hist1h2ao</text>
<text transform="translate(92.7 340.54) rotate(0.03)">Hist1h4m</text>
<text transform="translate(92.7 344.30) rotate(0.03)">Mir45f</text>
<text transform="translate(92.7 348.07) rotate(0.03)">Hist1h3d</text>
</g>
<g font-family="'Liberation Sans', Arial, sans-serif" font-size="2.65" fill="#000" stroke="#000" stroke-width="0.04" text-rendering="geometricPrecision">
<text transform="translate(256.5 42.98) rotate(0.03) scale(1 1.15)">NM_029893</text>
<text transform="translate(256.5 46.75) rotate(0.03) scale(1 1.15)">NM_025293</text>
<text transform="translate(256.5 50.51) rotate(0.03) scale(1 1.15)">ENSMUST00000002754</text>
<text transform="translate(256.5 54.27) rotate(0.03) scale(1 1.15)">NM_146198</text>
<text transform="translate(256.5 58.04) rotate(0.03) scale(1 1.15)">NM_001166366</text>
<text transform="translate(256.5 61.80) rotate(0.03) scale(1 1.15)">ENSMUST00000243185</text>
<text transform="translate(256.5 65.56) rotate(0.03) scale(1 1.15)">ENSMUST00000119691</text>
<text transform="translate(256.5 69.33) rotate(0.03) scale(1 1.15)">NM_001252506</text>
<text transform="translate(256.5 73.09) rotate(0.03) scale(1 1.15)">NM_001167890</text>
<text transform="translate(256.5 76.85) rotate(0.03) scale(1 1.15)">NM_001370161</text>
<text transform="translate(256.5 80.62) rotate(0.03) scale(1 1.15)">NM_145137</text>
<text transform="translate(256.5 84.38) rotate(0.03) scale(1 1.15)">NR_015517</text>
<text transform="translate(256.5 88.14) rotate(0.03) scale(1 1.15)">NM_009408</text>
<text transform="translate(256.5 91.91) rotate(0.03) scale(1 1.15)">NR_045180</text>
<text transform="translate(256.5 95.67) rotate(0.03) scale(1 1.15)">NM_011910</text>
<text transform="translate(256.5 99.43) rotate(0.03) scale(1 1.15)">NM_025773</text>
<text transform="translate(256.5 103.20) rotate(0.03) scale(1 1.15)">NM_001166366</text>
<text transform="translate(256.5 106.96) rotate(0.03) scale(1 1.15)">NM_133581</text>
<text transform="translate(256.5 110.72) rotate(0.03) scale(1 1.15)">NM_009395</text>
<text transform="translate(256.5 114.49) rotate(0.03) scale(1 1.15)">ENSMUST00000123680</text>
<text transform="translate(256.5 118.25) rotate(0.03) scale(1 1.15)">NM_026183</text>
<text transform="translate(256.5 122.01) rotate(0.03) scale(1 1.15)">NM_011458</text>
<text transform="translate(256.5 125.78) rotate(0.03) scale(1 1.15)">NM_182464</text>
<text transform="translate(256.5 129.54) rotate(0.03) scale(1 1.15)">NR_040351</text>
<text transform="translate(256.5 133.30) rotate(0.03) scale(1 1.15)">NM_001102436</text>
<text transform="translate(256.5 137.07) rotate(0.03) scale(1 1.15)">NM_001111098</text>
<text transform="translate(256.5 140.83) rotate(0.03) scale(1 1.15)">NM_001163148</text>
<text transform="translate(256.5 144.59) rotate(0.03) scale(1 1.15)">NM_001164575</text>
<text transform="translate(256.5 148.36) rotate(0.03) scale(1 1.15)">NM_008204</text>
<text transform="translate(256.5 152.12) rotate(0.03) scale(1 1.15)">NM_003346</text>
<text transform="translate(256.5 155.88) rotate(0.03) scale(1 1.15)">ENSMUST00000103751</text>
<text transform="translate(256.5 159.65) rotate(0.03) scale(1 1.15)">NM_011540</text>
<text transform="translate(256.5 163.41) rotate(0.03) scale(1 1.15)">NR_001592</text>
<text transform="translate(256.5 167.17) rotate(0.03) scale(1 1.15)">NM_001039497</text>
<text transform="translate(256.5 170.94) rotate(0.03) scale(1 1.15)">NM_026593</text>
<text transform="translate(256.5 174.70) rotate(0.03) scale(1 1.15)">ENSMUST00000101790</text>
<text transform="translate(256.5 178.46) rotate(0.03) scale(1 1.15)">NM_009913</text>
<text transform="translate(256.5 182.23) rotate(0.03) scale(1 1.15)">AK035481</text>
<text transform="translate(256.5 185.99) rotate(0.03) scale(1 1.15)">NM_031196</text>
<text transform="translate(256.5 189.75) rotate(0.03) scale(1 1.15)">NM_181828</text>
<text transform="translate(256.5 193.52) rotate(0.03) scale(1 1.15)">NM_031168</text>
<text transform="translate(256.5 197.28) rotate(0.03) scale(1 1.15)">NM_020268</text>
<text transform="translate(256.5 201.05) rotate(0.03) scale(1 1.15)">NM_001205063</text>
<text transform="translate(256.5 204.81) rotate(0.03) scale(1 1.15)">NM_178648</text>
<text transform="translate(256.5 208.57) rotate(0.03) scale(1 1.15)">NM_029764</text>
<text transform="translate(256.5 212.34) rotate(0.03) scale(1 1.15)">NM_001004140</text>
<text transform="translate(256.5 216.10) rotate(0.03) scale(1 1.15)">NM_001039532</text>
<text transform="translate(256.5 219.86) rotate(0.03) scale(1 1.15)">NM_172262</text>
<text transform="translate(256.5 223.63) rotate(0.03) scale(1 1.15)">ENSMUST00000130014</text>
<text transform="translate(256.5 227.39) rotate(0.03) scale(1 1.15)">NM_008167</text>
<text transform="translate(256.5 231.15) rotate(0.03) scale(1 1.15)">NM_028975</text>
<text transform="translate(256.5 234.92) rotate(0.03) scale(1 1.15)">AK_046592</text>
<text transform="translate(256.5 238.68) rotate(0.03) scale(1 1.15)">NM_015786</text>
<text transform="translate(256.5 242.44) rotate(0.03) scale(1 1.15)">BC092303</text>
<text transform="translate(256.5 246.21) rotate(0.03) scale(1 1.15)">NM_181819</text>
<text transform="translate(256.5 249.97) rotate(0.03) scale(1 1.15)">NM_175705</text>
<text transform="translate(256.5 253.73) rotate(0.03) scale(1 1.15)">NM_130814</text>
<text transform="translate(256.5 257.50) rotate(0.03) scale(1 1.15)">NM_175675</text>
<text transform="translate(256.5 261.26) rotate(0.03) scale(1 1.15)">NM_153800</text>
<text transform="translate(256.5 265.02) rotate(0.03) scale(1 1.15)">ENSMUST00000119781</text>
<text transform="translate(256.5 268.79) rotate(0.03) scale(1 1.15)">NM_001161737</text>
<text transform="translate(256.5 272.55) rotate(0.03) scale(1 1.15)">AK136173</text>
<text transform="translate(256.5 276.31) rotate(0.03) scale(1 1.15)">NM_001177653</text>
<text transform="translate(256.5 280.08) rotate(0.03) scale(1 1.15)">NM_027518</text>
<text transform="translate(256.5 283.84) rotate(0.03) scale(1 1.15)">NM_001290908</text>
<text transform="translate(256.5 287.60) rotate(0.03) scale(1 1.15)">NM_008817</text>
<text transform="translate(256.5 291.37) rotate(0.03) scale(1 1.15)">NM_080921</text>
<text transform="translate(256.5 295.13) rotate(0.03) scale(1 1.15)">NM_008197</text>
<text transform="translate(256.5 298.89) rotate(0.03) scale(1 1.15)">NM_138753</text>
<text transform="translate(256.5 302.66) rotate(0.03) scale(1 1.15)">NM_023422</text>
<text transform="translate(256.5 306.42) rotate(0.03) scale(1 1.15)">NM_001291539</text>
<text transform="translate(256.5 310.18) rotate(0.03) scale(1 1.15)">ENSMUST00000078369</text>
<text transform="translate(256.5 313.95) rotate(0.03) scale(1 1.15)">ENSMUST00000035292</text>
<text transform="translate(256.5 317.71) rotate(0.03) scale(1 1.15)">ENSMUST00000178182</text>
<text transform="translate(256.5 321.47) rotate(0.03) scale(1 1.15)">NM_001114401</text>
<text transform="translate(256.5 325.24) rotate(0.03) scale(1 1.15)">ENSMUST00000105401</text>
<text transform="translate(256.5 329.00) rotate(0.03) scale(1 1.15)">NM_009606</text>
<text transform="translate(256.5 332.76) rotate(0.03) scale(1 1.15)">ENSMUST00000108522</text>
<text transform="translate(256.5 336.53) rotate(0.03) scale(1 1.15)">ENSMUST00000090774</text>
<text transform="translate(256.5 340.29) rotate(0.03) scale(1 1.15)">ENSMUST00000102972</text>
<text transform="translate(256.5 344.05) rotate(0.03) scale(1 1.15)">NR_035470</text>
<text transform="translate(256.5 347.82) rotate(0.03) scale(1 1.15)">BC021611</text>
</g>
<path d="M85.80 41.98L90.20 41.98M85.80 45.75L90.20 45.75M85.80 41.98L85.80 45.75M79.10 43.86L85.80 43.86M79.10 49.51L90.20 49.51M79.10 43.86L79.10 49.51M77.90 53.27L90.20 53.27M77.90 57.04L90.20 57.04M77.90 53.27L77.90 57.04M75.70 55.15L77.90 55.15M75.70 60.80L90.20 60.80M75.70 55.15L75.70 60.80M74.40 46.69L79.10 46.69M74.40 57.98L75.70 57.98M74.40 46.69L74.40 57.98M81.50 64.56L90.20 64.56M81.50 68.33L90.20 68.33M81.50 64.56L81.50 68.33M71.30 52.33L74.40 52.33M71.30 66.44L81.50 66.44M71.30 52.33L71.30 66.44M82.20 72.09L90.20 72.09M82.20 75.85L90.20 75.85M82.20 72.09L82.20 75.85M80.70 73.97L82.20 73.97M80.70 79.62L90.20 79.62M80.70 73.97L80.70 79.62M72.00 76.79L80.70 76.79M72.00 83.38L90.20 83.38M72.00 76.79L72.00 83.38M67.40 59.39L71.30 59.39M67.40 80.09L72.00 80.09M67.40 59.39L67.40 80.09M65.00 69.74L67.40 69.74M65.00 87.14L90.20 87.14M65.00 69.74L65.00 87.14M63.40 78.44L65.00 78.44M63.40 90.91L90.20 90.91M63.40 78.44L63.40 90.91M82.50 94.67L90.20 94.67M82.50 98.43L90.20 98.43M82.50 94.67L82.50 98.43M76.80 96.55L82.50 96.55M76.80 102.20L90.20 102.20M76.80 96.55L76.80 102.20M73.60 99.37L76.80 99.37M73.60 105.96L90.20 105.96M73.60 99.37L73.60 105.96M84.10 109.72L90.20 109.72M84.10 113.49L90.20 113.49M84.10 109.72L84.10 113.49M69.70 102.67L73.60 102.67M69.70 111.60L84.10 111.60M69.70 102.67L69.70 111.60M62.30 84.67L63.40 84.67M62.30 107.14L69.70 107.14M62.30 84.67L62.30 107.14M81.50 117.25L90.20 117.25M81.50 121.01L90.20 121.01M81.50 117.25L81.50 121.01M79.10 124.78L90.20 124.78M79.10 128.54L90.20 128.54M79.10 124.78L79.10 128.54M75.70 119.13L81.50 119.13M75.70 126.66L79.10 126.66M75.70 119.13L75.70 126.66M80.50 136.07L90.20 136.07M80.50 139.83L90.20 139.83M80.50 136.07L80.50 139.83M78.50 132.30L90.20 132.30M78.50 137.95L80.50 137.95M78.50 132.30L78.50 137.95M76.30 135.13L78.50 135.13M76.30 143.59L90.20 143.59M76.30 135.13L76.30 143.59M73.60 122.90L75.70 122.90M73.60 139.36L76.30 139.36M73.60 122.90L73.60 139.36M54.50 131.13L73.60 131.13M54.50 147.36L90.20 147.36M54.50 131.13L54.50 147.36M51.70 139.24L54.50 139.24M51.70 151.12L90.20 151.12M51.70 139.24L51.70 151.12M43.50 95.90L62.30 95.90M43.50 145.18L51.70 145.18M43.50 95.90L43.50 145.18M68.90 154.88L90.20 154.88M68.90 158.65L90.20 158.65M68.90 154.88L68.90 158.65M35.70 120.54L43.50 120.54M35.70 156.77L68.90 156.77M35.70 120.54L35.70 156.77M84.10 162.41L90.20 162.41M84.10 166.17L90.20 166.17M84.10 162.41L84.10 166.17M82.20 164.29L84.10 164.29M82.20 169.94L90.20 169.94M82.20 164.29L82.20 169.94M73.60 167.12L82.20 167.12M73.60 173.70L90.20 173.70M73.60 167.12L73.60 173.70M70.50 170.41L73.60 170.41M70.50 177.46L90.20 177.46M70.50 170.41L70.50 177.46M77.90 181.23L90.20 181.23M77.90 184.99L90.20 184.99M77.90 181.23L77.90 184.99M76.30 183.11L77.90 183.11M76.30 188.75L90.20 188.75M76.30 183.11L76.30 188.75M69.70 185.93L76.30 185.93M69.70 192.52L90.20 192.52M69.70 185.93L69.70 192.52M65.80 189.23L69.70 189.23M65.80 196.28L90.20 196.28M65.80 189.23L65.80 196.28M62.30 173.94L70.50 173.94M62.30 192.75L65.80 192.75M62.30 173.94L62.30 192.75M29.40 183.34L62.30 183.34M29.40 200.05L90.20 200.05M29.40 183.34L29.40 200.05M21.90 138.65L35.70 138.65M21.90 191.70L29.40 191.70M21.90 138.65L21.90 191.70M14.40 165.17L21.90 165.17M14.40 203.81L90.20 203.81M14.40 165.17L14.40 203.81M86.60 207.57L90.20 207.57M86.60 211.34L90.20 211.34M86.60 207.57L86.60 211.34M83.00 209.45L86.60 209.45M83.00 215.10L90.20 215.10M83.00 209.45L83.00 215.10M80.70 212.28L83.00 212.28M80.70 218.86L90.20 218.86M80.70 212.28L80.70 218.86M81.50 222.63L90.20 222.63M81.50 226.39L90.20 226.39M81.50 222.63L81.50 226.39M76.80 215.57L80.70 215.57M76.80 224.51L81.50 224.51M76.80 215.57L76.80 224.51M82.20 230.15L90.20 230.15M82.20 233.92L90.20 233.92M82.20 230.15L82.20 233.92M73.60 232.03L82.20 232.03M73.60 237.68L90.20 237.68M73.60 232.03L73.60 237.68M69.70 220.04L76.80 220.04M69.70 234.86L73.60 234.86M69.70 220.04L69.70 234.86M45.40 227.45L69.70 227.45M45.40 241.44L90.20 241.44M45.40 227.45L45.40 241.44M76.30 245.21L90.20 245.21M76.30 248.97L90.20 248.97M76.30 245.21L76.30 248.97M72.80 252.73L90.20 252.73M72.80 256.50L90.20 256.50M72.80 252.73L72.80 256.50M70.50 247.09L76.30 247.09M70.50 254.61L72.80 254.61M70.50 247.09L70.50 254.61M76.30 260.26L90.20 260.26M76.30 264.02L90.20 264.02M76.30 260.26L76.30 264.02M73.60 262.14L76.30 262.14M73.60 267.79L90.20 267.79M73.60 262.14L73.60 267.79M68.90 250.85L70.50 250.85M68.90 264.96L73.60 264.96M68.90 250.85L68.90 264.96M61.90 271.55L90.20 271.55M61.90 275.31L90.20 275.31M61.90 271.55L61.90 275.31M57.80 257.91L68.90 257.91M57.80 273.43L61.90 273.43M57.80 257.91L57.80 273.43M57.00 265.67L57.80 265.67M57.00 279.08L90.20 279.08M57.00 265.67L57.00 279.08M42.30 234.45L45.40 234.45M42.30 272.37L57.00 272.37M42.30 234.45L42.30 272.37M72.80 282.84L90.20 282.84M72.80 286.60L90.20 286.60M72.80 282.84L72.80 286.60M63.40 284.72L72.80 284.72M63.40 290.37L90.20 290.37M63.40 284.72L63.40 290.37M67.40 294.13L90.20 294.13M67.40 297.89L90.20 297.89M67.40 294.13L67.40 297.89M53.30 287.54L63.40 287.54M53.30 296.01L67.40 296.01M53.30 287.54L53.30 296.01M27.40 291.78L53.30 291.78M27.40 301.66L90.20 301.66M27.40 291.78L27.40 301.66M17.20 253.41L42.30 253.41M17.20 296.72L27.40 296.72M17.20 253.41L17.20 296.72M8.10 184.49L14.40 184.49M8.10 275.06L17.20 275.06M8.10 184.49L8.10 275.06M77.90 305.42L90.20 305.42M77.90 309.18L90.20 309.18M77.90 305.42L77.90 309.18M73.00 307.30L77.90 307.30M73.00 312.95L90.20 312.95M73.00 307.30L73.00 312.95M79.10 316.71L90.20 316.71M79.10 320.47L90.20 320.47M79.10 316.71L79.10 320.47M69.70 310.12L73.00 310.12M69.70 318.59L79.10 318.59M69.70 310.12L69.70 318.59M64.20 314.36L69.70 314.36M64.20 324.24L90.20 324.24M64.20 314.36L64.20 324.24M70.50 328.00L90.20 328.00M70.50 331.76L90.20 331.76M70.50 328.00L70.50 331.76M49.30 319.30L64.20 319.30M49.30 329.88L70.50 329.88M49.30 319.30L49.30 329.88M39.20 324.59L49.30 324.59M39.20 335.53L90.20 335.53M39.20 324.59L39.20 335.53M45.10 339.29L90.20 339.29M45.10 343.05L90.20 343.05M45.10 339.29L45.10 343.05M21.10 330.06L39.20 330.06M21.10 341.17L45.10 341.17M21.10 330.06L21.10 341.17M16.40 335.62L21.10 335.62M16.40 346.82L90.20 346.82M16.40 335.62L16.40 346.82M1.90 229.78L8.10 229.78M1.90 341.22L16.40 341.22M1.90 229.78L1.90 341.22" stroke="#1a1a1a" stroke-width="0.55" fill="none"/>
<path d="M154.7 9.5L177 9.5M154.7 9.5L154.7 13.2M177 9.5L177 13.2M132.7 6.8L165.85 6.8M132.7 6.8L132.7 13.2M165.85 6.8L165.85 9.5M221 11.6L243.2 11.6M221 11.6L221 13.2M243.2 11.6L243.2 13.2M198.8 9.5L232.1 9.5M198.8 9.5L198.8 13.2M232.1 9.5L232.1 11.6M149.27499999999998 1.3L215.45 1.3M149.27499999999998 1.3L149.27499999999998 6.8M215.45 1.3L215.45 9.5" stroke="#222" stroke-width="0.6" fill="none"/>
<text x="5.2" y="14.8" font-family="'Liberation Sans', Arial, sans-serif" font-weight="bold" font-size="10.8">A.</text>
<text x="44.9" y="21.9" font-family="'Liberation Sans', Arial, sans-serif" font-weight="bold" font-size="7.45">Designation of Mouse:</text>
<text x="133" y="21.9" font-family="'Liberation Sans', Arial, sans-serif" font-weight="bold" font-size="7.3" text-anchor="middle">3</text>
<text x="155" y="21.9" font-family="'Liberation Sans', Arial, sans-serif" font-weight="bold" font-size="7.3" text-anchor="middle">1</text>
<text x="176.5" y="21.9" font-family="'Liberation Sans', Arial, sans-serif" font-weight="bold" font-size="7.3" text-anchor="middle">2</text>
<text x="199" y="21.9" font-family="'Liberation Sans', Arial, sans-serif" font-weight="bold" font-size="7.3" text-anchor="middle">3</text>
<text x="221" y="21.9" font-family="'Liberation Sans', Arial, sans-serif" font-weight="bold" font-size="7.3" text-anchor="middle">2</text>
<text x="243" y="21.9" font-family="'Liberation Sans', Arial, sans-serif" font-weight="bold" font-size="7.3" text-anchor="middle">1</text>
<path d="M122.4 30V26.9H188V30M189.7 30V26.9H253.6V30" stroke="#000" stroke-width="1.2" fill="none"/>
<text x="154.3" y="36.4" font-family="'Liberation Sans', Arial, sans-serif" font-weight="bold" font-size="7.1" text-anchor="middle">JQ1</text>
<text x="219.9" y="36.4" font-family="'Liberation Sans', Arial, sans-serif" font-weight="bold" font-size="7.3" text-anchor="middle">Control (Vehicle)</text>
<text x="301.6" y="15.0" font-family="'Liberation Sans', Arial, sans-serif" font-weight="bold" font-size="10.8">B.</text>
<text x="323.5" y="35.7" font-family="'Liberation Sans', Arial, sans-serif" font-weight="bold" font-size="10.9">a</text>
<text x="387.0" y="43.6" font-family="'Liberation Sans', Arial, sans-serif" font-weight="bold" font-style="italic" font-size="7.3" text-anchor="middle">Peg3</text>
<text x="386.3" y="54.4" font-family="'Liberation Sans', Arial, sans-serif" font-weight="bold" font-style="italic" font-size="7.3" text-anchor="middle">p &lt; 0.01</text>
<path d="M364.4 61.9V59.1H408.7V61.9" stroke="#000" stroke-width="1.2" fill="none"/>
<text transform="translate(329.8 145.2) rotate(-90) scale(1 1.07)" font-family="'Liberation Sans', Arial, sans-serif" font-weight="bold" font-size="8.5" text-anchor="middle">Relative mRNA expression level</text>
<path d="M362.9 204.3V180.8M354.9 180.8H370.9" stroke="#151515" stroke-width="0.9" fill="none"/>
<path d="M409.4 92.6V67.1M401.4 67.1H417.4" stroke="#555" stroke-width="0.7" fill="none"/>
<rect x="347.4" y="204.3" width="31.4" height="38.0" fill="#000"/>
<rect x="393.05" y="93.35" width="32.80" height="148.95" fill="url(#ha)" stroke="#000" stroke-width="1.5"/>
<path d="M340.5 50.9V242.3H432.3" stroke="#000" stroke-width="1.15" fill="none"/>
<path d="M337.4 242.3H340.5" stroke="#000" stroke-width="1"/>
<text x="337.0" y="245.0" font-family="'Liberation Sans', Arial, sans-serif" font-weight="bold" font-size="7.5" text-anchor="end">0</text>
<path d="M337.4 204.1H340.5" stroke="#000" stroke-width="1"/>
<text x="337.0" y="206.8" font-family="'Liberation Sans', Arial, sans-serif" font-weight="bold" font-size="7.5" text-anchor="end">1</text>
<path d="M337.4 165.9H340.5" stroke="#000" stroke-width="1"/>
<text x="337.0" y="168.6" font-family="'Liberation Sans', Arial, sans-serif" font-weight="bold" font-size="7.5" text-anchor="end">2</text>
<path d="M337.4 127.8H340.5" stroke="#000" stroke-width="1"/>
<text x="337.0" y="130.5" font-family="'Liberation Sans', Arial, sans-serif" font-weight="bold" font-size="7.5" text-anchor="end">3</text>
<path d="M337.4 89.6H340.5" stroke="#000" stroke-width="1"/>
<text x="337.0" y="92.3" font-family="'Liberation Sans', Arial, sans-serif" font-weight="bold" font-size="7.5" text-anchor="end">4</text>
<path d="M337.4 51.4H340.5" stroke="#000" stroke-width="1"/>
<text x="337.0" y="54.1" font-family="'Liberation Sans', Arial, sans-serif" font-weight="bold" font-size="7.5" text-anchor="end">5</text>
<path d="M362.9 242.3V245.8" stroke="#000" stroke-width="1"/>
<path d="M409.4 242.3V245.8" stroke="#000" stroke-width="1"/>
<text transform="translate(365.5 251.4) rotate(-45)" font-family="'Liberation Sans', Arial, sans-serif" font-weight="bold" font-size="7.9" text-anchor="end">Vehicle</text>
<text transform="translate(411.4 251.2) rotate(-45)" font-family="'Liberation Sans', Arial, sans-serif" font-weight="bold" font-size="7.9" text-anchor="end">JQ1</text>
<text x="447.4" y="35.7" font-family="'Liberation Sans', Arial, sans-serif" font-weight="bold" font-size="10.9">b</text>
<text x="511.2" y="53.9" font-family="'Liberation Sans', Arial, sans-serif" font-weight="bold" font-style="italic" font-size="7.3" text-anchor="middle">Gpr137c</text>
<text x="511.0" y="85.3" font-family="'Liberation Sans', Arial, sans-serif" font-weight="bold" font-style="italic" font-size="7.3" text-anchor="middle">p &lt; 0.001</text>
<path d="M489.4 92.2V89.4H532.8V92.2" stroke="#000" stroke-width="1.2" fill="none"/>
<text transform="translate(450.9 145.2) rotate(-90) scale(1 1.07)" font-family="'Liberation Sans', Arial, sans-serif" font-weight="bold" font-size="8.5" text-anchor="middle">Relative mRNA expression level</text>
<path d="M487.9 229.5V223.5M479.9 223.5H495.9" stroke="#151515" stroke-width="0.9" fill="none"/>
<path d="M533.5 116.0V97.5M525.5 97.5H541.5" stroke="#555" stroke-width="0.7" fill="none"/>
<rect x="472.0" y="229.5" width="32.0" height="12.8" fill="#000"/>
<rect x="517.75" y="116.75" width="32.70" height="125.55" fill="url(#hb)" stroke="#000" stroke-width="1.5"/>
<path d="M465.0 50.9V242.3H556.8" stroke="#000" stroke-width="1.15" fill="none"/>
<path d="M461.9 242.3H465.0" stroke="#000" stroke-width="1"/>
<text x="461.5" y="245.0" font-family="'Liberation Sans', Arial, sans-serif" font-weight="bold" font-size="7.5" text-anchor="end">0</text>
<path d="M461.9 178.7H465.0" stroke="#000" stroke-width="1"/>
<text x="461.5" y="181.4" font-family="'Liberation Sans', Arial, sans-serif" font-weight="bold" font-size="7.5" text-anchor="end">5</text>
<path d="M461.9 115.0H465.0" stroke="#000" stroke-width="1"/>
<text x="461.5" y="117.7" font-family="'Liberation Sans', Arial, sans-serif" font-weight="bold" font-size="7.5" text-anchor="end">10</text>
<path d="M461.9 51.4H465.0" stroke="#000" stroke-width="1"/>
<text x="461.5" y="54.1" font-family="'Liberation Sans', Arial, sans-serif" font-weight="bold" font-size="7.5" text-anchor="end">15</text>
<path d="M487.9 242.3V245.8" stroke="#000" stroke-width="1"/>
<path d="M533.5 242.3V245.8" stroke="#000" stroke-width="1"/>
<text transform="translate(490.5 251.4) rotate(-45)" font-family="'Liberation Sans', Arial, sans-serif" font-weight="bold" font-size="7.9" text-anchor="end">Vehicle</text>
<text transform="translate(535.5 251.2) rotate(-45)" font-family="'Liberation Sans', Arial, sans-serif" font-weight="bold" font-size="7.9" text-anchor="end">JQ1</text>
<text x="561.1" y="35.7" font-family="'Liberation Sans', Arial, sans-serif" font-weight="bold" font-size="10.9">c</text>
<text x="629.4" y="53.9" font-family="'Liberation Sans', Arial, sans-serif" font-weight="bold" font-style="italic" font-size="7.3" text-anchor="middle">Itih1</text>
<text x="630.0" y="76.2" font-family="'Liberation Sans', Arial, sans-serif" font-weight="bold" font-style="italic" font-size="7.3" text-anchor="middle">p &lt; 0.01</text>
<path d="M608.1 82.8V80.0H651.7V82.8" stroke="#000" stroke-width="1.2" fill="none"/>
<text transform="translate(567.3 145.2) rotate(-90) scale(1 1.07)" font-family="'Liberation Sans', Arial, sans-serif" font-weight="bold" font-size="8.5" text-anchor="middle">Relative mRNA expression level</text>
<path d="M606.6 115.0V88.5M598.6 88.5H614.6" stroke="#151515" stroke-width="0.9" fill="none"/>
<path d="M652.4 225.3V211.4M644.4 211.4H660.4" stroke="#555" stroke-width="0.7" fill="none"/>
<rect x="591.5" y="115.0" width="30.4" height="127.3" fill="#000"/>
<rect x="635.95" y="226.05" width="33.30" height="16.25" fill="url(#hc)" stroke="#000" stroke-width="1.5"/>
<path d="M583.4 50.9V242.3H675.1999999999999" stroke="#000" stroke-width="1.15" fill="none"/>
<path d="M580.3 242.3H583.4" stroke="#000" stroke-width="1"/>
<text x="579.9" y="245.0" font-family="'Liberation Sans', Arial, sans-serif" font-weight="bold" font-size="7.5" text-anchor="end">0.0</text>
<path d="M580.3 178.7H583.4" stroke="#000" stroke-width="1"/>
<text x="579.9" y="181.4" font-family="'Liberation Sans', Arial, sans-serif" font-weight="bold" font-size="7.5" text-anchor="end">0.5</text>
<path d="M580.3 115.0H583.4" stroke="#000" stroke-width="1"/>
<text x="579.9" y="117.7" font-family="'Liberation Sans', Arial, sans-serif" font-weight="bold" font-size="7.5" text-anchor="end">1.0</text>
<path d="M580.3 51.4H583.4" stroke="#000" stroke-width="1"/>
<text x="579.9" y="54.1" font-family="'Liberation Sans', Arial, sans-serif" font-weight="bold" font-size="7.5" text-anchor="end">1.5</text>
<path d="M606.6 242.3V245.8" stroke="#000" stroke-width="1"/>
<path d="M652.4 242.3V245.8" stroke="#000" stroke-width="1"/>
<text transform="translate(609.2 251.4) rotate(-45)" font-family="'Liberation Sans', Arial, sans-serif" font-weight="bold" font-size="7.9" text-anchor="end">Vehicle</text>
<text transform="translate(654.4 251.2) rotate(-45)" font-family="'Liberation Sans', Arial, sans-serif" font-weight="bold" font-size="7.9" text-anchor="end">JQ1</text>
<text x="683.9" y="35.7" font-family="'Liberation Sans', Arial, sans-serif" font-weight="bold" font-size="10.9">d</text>
<text x="752.6" y="53.9" font-family="'Liberation Sans', Arial, sans-serif" font-weight="bold" font-style="italic" font-size="7.3" text-anchor="middle">Tnfrs26</text>
<text x="751.6" y="70.5" font-family="'Liberation Sans', Arial, sans-serif" font-weight="bold" font-style="italic" font-size="7.3" text-anchor="middle">p &lt; 0.05</text>
<path d="M729.2 76.8V74.0H774.2V76.8" stroke="#000" stroke-width="1.2" fill="none"/>
<text transform="translate(689.8 145.2) rotate(-90) scale(1 1.07)" font-family="'Liberation Sans', Arial, sans-serif" font-weight="bold" font-size="8.5" text-anchor="middle">Relative mRNA expression level</text>
<path d="M729.4 115.0V79.9M721.4 79.9H737.4" stroke="#151515" stroke-width="0.9" fill="none"/>
<path d="M775.4 220.7V210.3M767.4 210.3H783.4" stroke="#555" stroke-width="0.7" fill="none"/>
<rect x="713.5" y="115.0" width="31.2" height="127.3" fill="#000"/>
<rect x="758.65" y="221.45" width="32.60" height="20.85" fill="url(#hd)" stroke="#000" stroke-width="1.5"/>
<path d="M706.2 50.9V242.3H798.0" stroke="#000" stroke-width="1.15" fill="none"/>
<path d="M703.1 242.3H706.2" stroke="#000" stroke-width="1"/>
<text x="702.7" y="245.0" font-family="'Liberation Sans', Arial, sans-serif" font-weight="bold" font-size="7.5" text-anchor="end">0.0</text>
<path d="M703.1 178.7H706.2" stroke="#000" stroke-width="1"/>
<text x="702.7" y="181.4" font-family="'Liberation Sans', Arial, sans-serif" font-weight="bold" font-size="7.5" text-anchor="end">0.5</text>
<path d="M703.1 115.0H706.2" stroke="#000" stroke-width="1"/>
<text x="702.7" y="117.7" font-family="'Liberation Sans', Arial, sans-serif" font-weight="bold" font-size="7.5" text-anchor="end">1.0</text>
<path d="M703.1 51.4H706.2" stroke="#000" stroke-width="1"/>
<text x="702.7" y="54.1" font-family="'Liberation Sans', Arial, sans-serif" font-weight="bold" font-size="7.5" text-anchor="end">1.5</text>
<path d="M729.4 242.3V245.8" stroke="#000" stroke-width="1"/>
<path d="M775.4 242.3V245.8" stroke="#000" stroke-width="1"/>
<text transform="translate(732.0 251.4) rotate(-45)" font-family="'Liberation Sans', Arial, sans-serif" font-weight="bold" font-size="7.9" text-anchor="end">Vehicle</text>
<text transform="translate(777.4 251.2) rotate(-45)" font-family="'Liberation Sans', Arial, sans-serif" font-weight="bold" font-size="7.9" text-anchor="end">JQ1</text>
<defs><pattern id="ha" patternUnits="userSpaceOnUse" width="9.1" height="9.1" patternTransform="translate(392.30 92.60) rotate(35)"><rect x="5.26" y="0" width="3.9" height="9.1" fill="#000"/><rect x="-3.84" y="0" width="3.9" height="9.1" fill="#000"/></pattern><pattern id="hb" patternUnits="userSpaceOnUse" width="9.1" height="9.1" patternTransform="translate(517.00 116.00) rotate(35)"><rect x="4.93" y="0" width="3.9" height="9.1" fill="#000"/><rect x="-4.17" y="0" width="3.9" height="9.1" fill="#000"/></pattern><pattern id="hc" patternUnits="userSpaceOnUse" width="9.1" height="9.1" patternTransform="translate(635.20 225.30) rotate(35)"><rect x="4.85" y="0" width="3.9" height="9.1" fill="#000"/><rect x="-4.25" y="0" width="3.9" height="9.1" fill="#000"/></pattern><pattern id="hd" patternUnits="userSpaceOnUse" width="9.1" height="9.1" patternTransform="translate(757.90 220.70) rotate(35)"><rect x="5.34" y="0" width="3.9" height="9.1" fill="#000"/><rect x="-3.76" y="0" width="3.9" height="9.1" fill="#000"/></pattern></defs>
</svg>
</body></html>
